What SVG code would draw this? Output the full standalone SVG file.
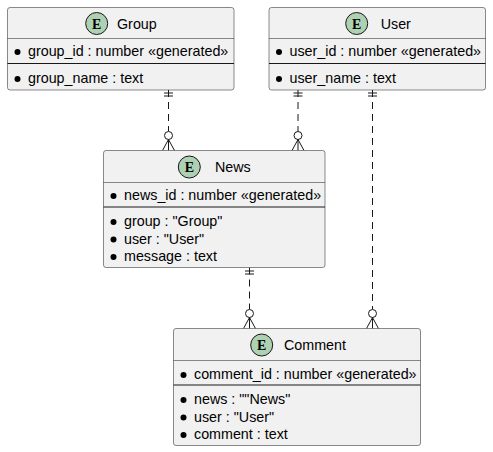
<svg xmlns="http://www.w3.org/2000/svg" width="493" height="452" viewBox="0 0 493 452">
<style>
.box{fill:#F1F1F1;stroke:#181818;stroke-width:0.5}
.hsep{stroke:#181818;stroke-width:0.5}
.sep{stroke:#181818;stroke-width:1}
.ec{fill:#ADD1B2;stroke:#181818;stroke-width:1}
.el{font-family:"Liberation Serif",serif;font-weight:bold;font-size:14px;fill:#000;text-anchor:middle}
.t{font-family:"Liberation Sans",Arial,sans-serif;font-size:14.3px;fill:#000}
.b{fill:#000}
.ln{fill:none;stroke:#181818;stroke-width:1;stroke-dasharray:7,5}
.sl{fill:none;stroke:#181818;stroke-width:1}
.oc{fill:#FFFFFF;stroke:#181818;stroke-width:1}
</style>
<rect width="493" height="452" fill="#FFFFFF"/>
<g id="connectors">
  <line class="ln" x1="168.5" y1="90" x2="168.5" y2="131.5"/>
  <line class="sl" x1="164" y1="93" x2="173" y2="93"/>
  <line class="sl" x1="164" y1="96" x2="173" y2="96"/>
  <circle class="oc" cx="168.5" cy="135.5" r="4"/>
  <path class="sl" d="M168.5,139.5 L162.5,150.5 M168.5,139.5 L168.5,150.5 M168.5,139.5 L174.5,150.5"/>
  <line class="ln" x1="298" y1="90" x2="298" y2="131.5"/>
  <line class="sl" x1="293.5" y1="93" x2="302.5" y2="93"/>
  <line class="sl" x1="293.5" y1="96" x2="302.5" y2="96"/>
  <circle class="oc" cx="298" cy="135.5" r="4"/>
  <path class="sl" d="M298,139.5 L292,150.5 M298,139.5 L298,150.5 M298,139.5 L304,150.5"/>
  <line class="ln" x1="372.5" y1="90" x2="372.5" y2="309.5"/>
  <line class="sl" x1="368" y1="93" x2="377" y2="93"/>
  <line class="sl" x1="368" y1="96" x2="377" y2="96"/>
  <circle class="oc" cx="372.5" cy="313.5" r="4"/>
  <path class="sl" d="M372.5,317.5 L366.5,328.5 M372.5,317.5 L372.5,328.5 M372.5,317.5 L378.5,328.5"/>
  <line class="ln" x1="249.5" y1="267.5" x2="249.5" y2="309.5"/>
  <line class="sl" x1="245" y1="271" x2="254" y2="271"/>
  <line class="sl" x1="245" y1="274" x2="254" y2="274"/>
  <circle class="oc" cx="249.5" cy="313.5" r="4"/>
  <path class="sl" d="M249.5,317.5 L243.5,328.5 M249.5,317.5 L249.5,328.5 M249.5,317.5 L255.5,328.5"/>
</g>
<g id="Group">
  <rect class="box" x="7.5" y="7.5" width="226.5" height="82.5" rx="2.5"/>
  <circle class="ec" cx="96.7" cy="23.5" r="11"/>
  <text class="el" x="96.7" y="28.5">E</text>
  <text class="t" x="117" y="28.5">Group</text>
  <line class="hsep" x1="7.5" y1="38.5" x2="234" y2="38.5"/>
  <circle class="b" cx="17.5" cy="52" r="3"/>
  <text class="t" x="28" y="56">group_id : number «generated»</text>
  <line class="sep" x1="7.5" y1="63.5" x2="234" y2="63.5"/>
  <circle class="b" cx="17.5" cy="79" r="3"/>
  <text class="t" x="28" y="83">group_name : text</text>
</g>
<g id="User">
  <rect class="box" x="269" y="7.5" width="216.5" height="82.5" rx="2.5"/>
  <circle class="ec" cx="356.7" cy="23.5" r="11"/>
  <text class="el" x="356.7" y="28.5">E</text>
  <text class="t" x="380.7" y="28.5">User</text>
  <line class="hsep" x1="269" y1="38.5" x2="485.5" y2="38.5"/>
  <circle class="b" cx="279" cy="52" r="3"/>
  <text class="t" x="289.5" y="56">user_id : number «generated»</text>
  <line class="sep" x1="269" y1="63.5" x2="485.5" y2="63.5"/>
  <circle class="b" cx="279" cy="79" r="3"/>
  <text class="t" x="289.5" y="83">user_name : text</text>
</g>
<g id="News">
  <rect class="box" x="103.5" y="150.5" width="221.5" height="117" rx="2.5"/>
  <circle class="ec" cx="189.3" cy="167" r="11"/>
  <text class="el" x="189.3" y="172">E</text>
  <text class="t" x="215" y="172">News</text>
  <line class="hsep" x1="103.5" y1="182.5" x2="325" y2="182.5"/>
  <circle class="b" cx="113.5" cy="196" r="3"/>
  <text class="t" x="124" y="200">news_id : number «generated»</text>
  <line class="sep" x1="103.5" y1="207" x2="325" y2="207"/>
  <circle class="b" cx="113.5" cy="222" r="3"/>
  <text class="t" x="124" y="226">group : "Group"</text>
  <circle class="b" cx="113.5" cy="239.5" r="3"/>
  <text class="t" x="124" y="243.5">user : "User"</text>
  <circle class="b" cx="113.5" cy="257" r="3"/>
  <text class="t" x="124" y="261">message : text</text>
</g>
<g id="Comment">
  <rect class="box" x="173.5" y="328.5" width="247" height="117" rx="2.5"/>
  <circle class="ec" cx="261.7" cy="345" r="11"/>
  <text class="el" x="261.7" y="350">E</text>
  <text class="t" x="284" y="350">Comment</text>
  <line class="hsep" x1="173.5" y1="360.5" x2="420.5" y2="360.5"/>
  <circle class="b" cx="183.5" cy="375" r="3"/>
  <text class="t" x="194" y="379">comment_id : number «generated»</text>
  <line class="sep" x1="173.5" y1="385" x2="420.5" y2="385"/>
  <circle class="b" cx="183.5" cy="400" r="3"/>
  <text class="t" x="194" y="404">news : ""News"</text>
  <circle class="b" cx="183.5" cy="417.5" r="3"/>
  <text class="t" x="194" y="421.5">user : "User"</text>
  <circle class="b" cx="183.5" cy="435" r="3"/>
  <text class="t" x="194" y="439">comment : text</text>
</g>
</svg>
